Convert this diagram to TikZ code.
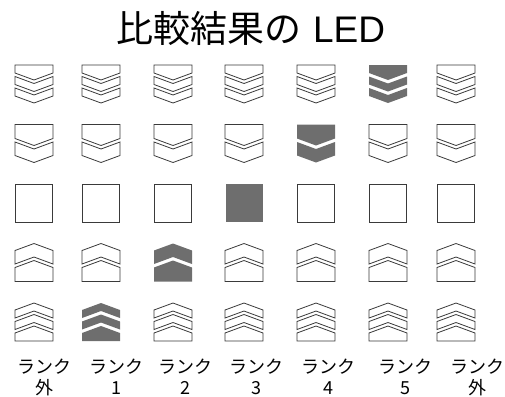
\documentclass[tikz,border=0pt]{standalone}
\usepackage{fontspec}
\newfontfamily\jp{Noto Sans CJK JP}
\newfontfamily\lat{Liberation Sans}
\definecolor{ledgray}{HTML}{6E6E6E}
\definecolor{ledline}{HTML}{3A3A3A}
\tikzset{
  ledoff/.style={draw=ledline, line width=0.8bp, fill=white},
  ledon/.style={fill=ledgray},
  lbl/.style={font=\jp\fontsize{18bp}{21bp}\selectfont, inner sep=0pt},
  tridown/.pic={
    \path[pic actions] (-19,0) -- (19,0) -- (19,8) -- (0,15) -- (-19,8) -- cycle;
    \path[pic actions] (-19,11.5) -- (0,18.5) -- (19,11.5) -- (19,19.5) -- (0,26.5) -- (-19,19.5) -- cycle;
    \path[pic actions] (-19,23) -- (0,30) -- (19,23) -- (19,31) -- (0,38) -- (-19,31) -- cycle;
  },
  triup/.pic={
    \path[pic actions] (-19,38) -- (19,38) -- (19,30) -- (0,23) -- (-19,30) -- cycle;
    \path[pic actions] (-19,26.5) -- (0,19.5) -- (19,26.5) -- (19,18.5) -- (0,11.5) -- (-19,18.5) -- cycle;
    \path[pic actions] (-19,15) -- (0,8) -- (19,15) -- (19,7) -- (0,0) -- (-19,7) -- cycle;
  },
  duodown/.pic={
    \path[pic actions] (-19,0) -- (19,0) -- (19,14) -- (0,21) -- (-19,14) -- cycle;
    \path[pic actions] (-19,17.5) -- (0,24.5) -- (19,17.5) -- (19,31) -- (0,38) -- (-19,31) -- cycle;
  },
  duoup/.pic={
    \path[pic actions] (-19,38) -- (19,38) -- (19,24) -- (0,17) -- (-19,24) -- cycle;
    \path[pic actions] (-19,20.5) -- (0,13.5) -- (19,20.5) -- (19,7) -- (0,0) -- (-19,7) -- cycle;
  },
  sq/.pic={
    \path[pic actions] (-18.5,0) rectangle (18.5,38);
  }
}
\begin{document}
\begin{tikzpicture}[x=1bp,y=-1bp]
\useasboundingbox (0,0) rectangle (505,396);
% title
\node[inner sep=0pt, anchor=base] (title) at (251,42)
  {\fontsize{37bp}{42bp}\selectfont{\jp 比較結果の} {\lat LED}};
% rows
\foreach \xc/\st in {34/ledoff,101/ledoff,173/ledoff,244/ledoff,316/ledoff,388/ledon,456/ledoff}
  \pic[\st] at (\xc,65) {tridown};
\foreach \xc/\st in {34/ledoff,101/ledoff,173/ledoff,244/ledoff,316/ledon,388/ledoff,456/ledoff}
  \pic[\st] at (\xc,124.5) {duodown};
\foreach \xc/\st in {34/ledoff,101/ledoff,173/ledoff,244/ledon,316/ledoff,388/ledoff,456/ledoff}
  \pic[\st] at (\xc,184) {sq};
\foreach \xc/\st in {34/ledoff,101/ledoff,173/ledon,244/ledoff,316/ledoff,388/ledoff,456/ledoff}
  \pic[\st] at (\xc,243.5) {duoup};
\foreach \xc/\st in {34/ledoff,101/ledon,173/ledoff,244/ledoff,316/ledoff,388/ledoff,456/ledoff}
  \pic[\st] at (\xc,303) {triup};
% labels
\foreach \i/\xc/\t in {1/44/外,2/116/1,3/185/2,4/256/3,5/328/4,6/405/5,7/477/外} {
  \node[lbl] (ra\i) at (\xc,367) {ランク};
  \node[lbl] (rb\i) at (\xc,388) {\t};
}
\end{tikzpicture}
\end{document}
